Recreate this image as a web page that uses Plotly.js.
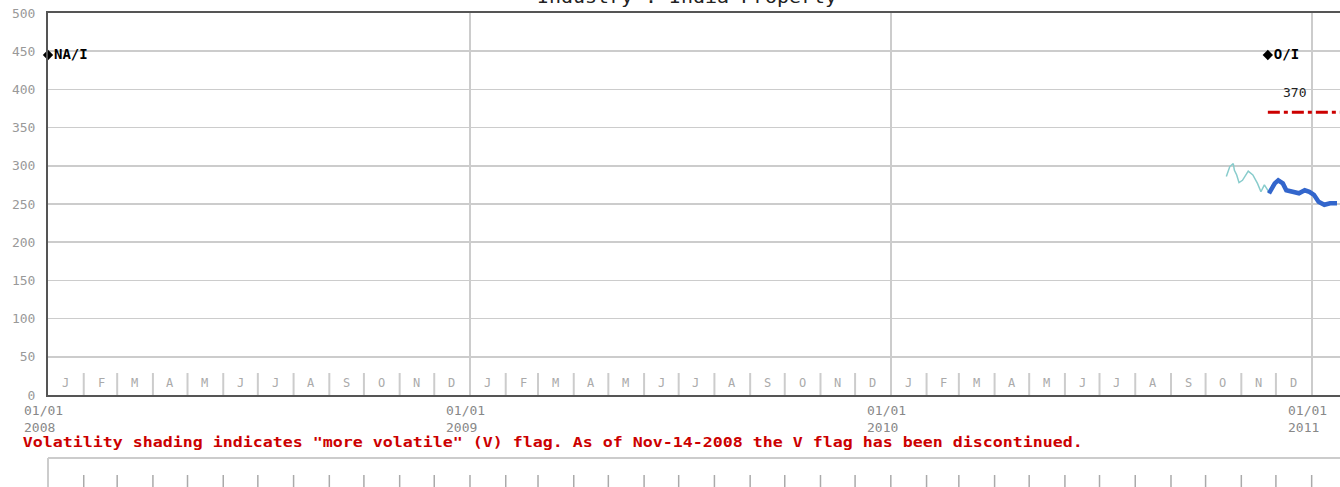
<!DOCTYPE html>
<html><head><meta charset="utf-8">
<script src="https://cdn.plot.ly/plotly-3.0.1.min.js"></script>
<style>html,body{margin:0;padding:0;background:#fff;}#chart{width:1340px;height:487px;}</style>
</head><body><div id="chart"></div>
<script>
// ---- data ----
const titleText = "Industry : India Property";
const tealDates = ['2010-10-19','2010-10-22','2010-10-25','2010-10-26','2010-10-28','2010-10-30','2010-11-02','2010-11-07','2010-11-11','2010-11-15','2010-11-18','2010-11-21','2010-11-24','2010-11-25'];
const tealVals  = [286,299,303,294,288,278,281,293,288,277,266,275,268,264];
const blueDates = ['2010-11-25','2010-11-30','2010-12-03','2010-12-07','2010-12-10','2010-12-16','2010-12-21','2010-12-26','2010-12-30','2011-01-03','2011-01-07','2011-01-12','2011-01-17','2011-01-23'];
const blueVals  = [264,277,281,277,268,266,264,268,266,262,253,249,251,251];
const flagDates = ['2008-01-01','2010-11-24'];
const flagVals  = [445,445];
const flagLabels = ['NA/I','O/I'];
const targetStart = '2010-11-24';
const targetEnd = '2011-01-26';
const targetVal = 370;
const targetLabel = '370';
const targetLabelDate = '2010-12-17';
const monthLetters = ['J','F','M','A','M','J','J','A','S','O','N','D'];
const years = [2008,2009,2010];
const yearTicks = ['2008-01-01','2009-01-01','2010-01-01','2011-01-01'];
const yearTickText = ['01/01<br>2008','01/01<br>2009','01/01<br>2010','01/01<br>2011'];
const yTicks = [0,50,100,150,200,250,300,350,400,450,500];
const footnote = 'Volatility shading indicates "more volatile" (V) flag. As of Nov-14-2008 the V flag has been discontinued.';

// ---- layout helpers ----
const FONT = 'DejaVu Sans Mono, Liberation Mono, monospace';
const PLOT_H = 382, PLOT_W = 1292, L = 48;
const py = px => -(px - 395) / PLOT_H; // pixel row -> paper y
const pxX = px => (px - L) / PLOT_W;    // pixel col -> paper x

function pad(n){return (n<10?'0':'')+n;}
const shapes = [];
const annotations = [];

// month separators + month letters
years.forEach(y => {
  monthLetters.forEach((m, i) => {
    const start = y + '-' + pad(i+1) + '-01';
    const mid = y + '-' + pad(i+1) + '-16';
    annotations.push({x: mid, xref:'x', y: py(383), yref:'paper', text: m, showarrow:false,
      font:{family:FONT, size:12, color:'#aaaaaa'}, yanchor:'middle'});
    if (i > 0) shapes.push({type:'line', xref:'x', yref:'paper', x0:start, x1:start, y0:0, y1:py(373),
      line:{color:'#cccccc', width:2}});
  });
});
// lower panel
shapes.push({type:'line', xref:'paper', yref:'paper', x0:0, x1:1.01, y0:py(458), y1:py(458), line:{color:'#cccccc', width:2}});
shapes.push({type:'line', xref:'paper', yref:'paper', x0:0, x1:0, y0:py(458), y1:py(495), line:{color:'#cccccc', width:2}});
years.concat([2011]).forEach(y => {
  monthLetters.forEach((m, i) => {
    if (y === 2011 && i > 0) return;
    if (y === 2008 && i === 0) return;
    const start = y + '-' + pad(i+1) + '-01';
    shapes.push({type:'line', xref:'x', yref:'paper', x0:start, x1:start, y0:py(475), y1:py(495),
      line:{color:'#aaaaaa', width:1.5}});
  });
});
// year labels
yearTicks.forEach((d, i) => {
  annotations.push({x:d, xref:'x', y:py(401), yref:'paper', text:yearTickText[i], showarrow:false,
    xanchor:'left', yanchor:'top', align:'left', xshift:-26,
    font:{family:FONT, size:13, color:'#888888'}});
});
// target label
annotations.push({x:targetLabelDate, xref:'x', y:targetVal, yref:'y', text:targetLabel, showarrow:false,
  yshift:20, font:{family:FONT, size:13, color:'#222222'}});
// footnote (centered, stretched to reference width after render)
annotations.push({x:pxX(552), xref:'paper', y:py(442), yref:'paper', text:footnote, showarrow:false,
  xanchor:'center', yanchor:'middle', font:{family:FONT, size:14, color:'#cc0000', weight:'bold'}});
// title (clipped at top, as in the reference)
annotations.push({x:pxX(687), xref:'paper', y:py(9), yref:'paper', text:titleText, showarrow:false,
  xanchor:'center', yanchor:'bottom', font:{family:FONT, size:17, color:'#222222'}});

const traces = [
  {x:tealDates, y:tealVals, type:'scatter', mode:'lines', line:{color:'#88cccc', width:1.5}, hoverinfo:'skip'},
  {x:blueDates, y:blueVals, type:'scatter', mode:'lines', line:{color:'#3366cc', width:4.5}, hoverinfo:'skip'},
  {x:[targetStart, targetEnd], y:[targetVal, targetVal], type:'scatter', mode:'lines',
    line:{color:'#cc0000', width:3, dash:'12px,4px,4px,4px'}, hoverinfo:'skip'},
  {x:flagDates, y:flagVals, type:'scatter', mode:'markers+text', text:flagLabels, textposition:'middle right',
    marker:{symbol:'diamond', size:8, color:'#000000'}, cliponaxis:false,
    textfont:{family:FONT, size:14, color:'#000000', weight:'bold'}, hoverinfo:'skip'}
];

const layout = {
  width:1340, height:487,
  margin:{l:L, r:0, t:13, b:92},
  paper_bgcolor:'#ffffff', plot_bgcolor:'#ffffff',
  showlegend:false,
  xaxis:{type:'date', range:['2008-01-01','2011-01-25 14:00'], tickvals:yearTicks, showticklabels:false,
    showgrid:true, gridcolor:'#cccccc', gridwidth:2, ticks:'', zeroline:false,
    showline:true, mirror:true, linecolor:'#555555', linewidth:2},
  yaxis:{range:[0,500], tickvals:yTicks, showgrid:true, gridcolor:'#cccccc', gridwidth:1.5, zeroline:false,
    ticks:'', ticklabelstandoff:8, tickfont:{family:FONT, size:13, color:'#999999'},
    showline:true, linecolor:'#555555', linewidth:2},
  shapes:shapes, annotations:annotations
};

Plotly.newPlot('chart', traces, layout, {staticPlot:true, displayModeBar:false}).then(() => {
  document.querySelectorAll('.annotation-text').forEach(t => {
    if (t.textContent === footnote) { t.setAttribute('textLength', '1060'); t.setAttribute('lengthAdjust', 'spacingAndGlyphs'); }
    if (t.textContent === titleText) { t.setAttribute('textLength', '300'); t.setAttribute('lengthAdjust', 'spacingAndGlyphs'); }
  });
});
</script></body></html>
